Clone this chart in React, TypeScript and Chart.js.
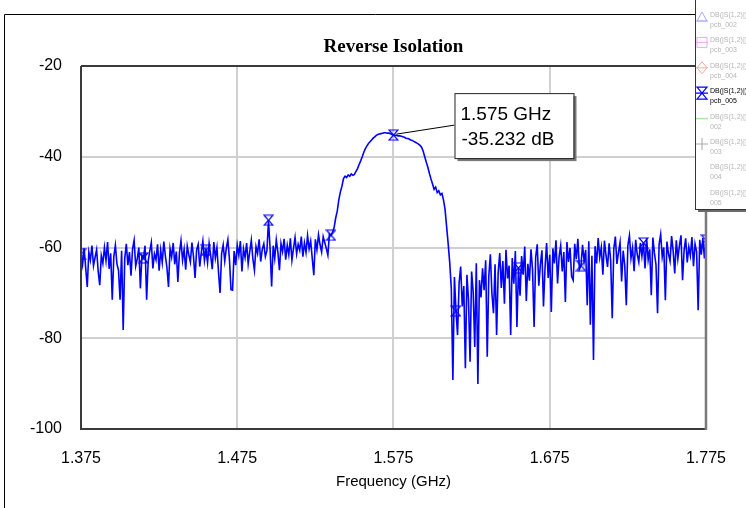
import React, { useEffect, useRef } from "react";
import { Chart, registerables } from "chart.js";

Chart.register(...registerables);

// ---- sweep definition (GHz) ----
const FREQ_START = 1.375;
const FREQ_STEP = 0.001;
const SYMBOL_EVERY = 40;

// ---- DB(|S(1,2)|) pcb_005 (dB) ----
const lowerStopband = [
  -61.5, -63.8, -60.2, -64.5, -68.7, -61.0, -62.8, -59.6, -64.0, -62.2,
  -60.5, -65.3, -68.3, -61.8, -63.5, -60.0, -62.9, -58.8, -64.7, -61.3,
  -71.5, -62.0, -59.5, -63.6, -65.0, -71.5, -60.7, -78.2, -62.4, -59.2,
  -63.9, -61.0, -66.2, -60.3, -58.4, -64.1, -62.5, -60.0, -69.0, -61.7,
  -62.3, -59.6, -71.5, -63.0, -60.8, -58.9, -64.6, -61.4, -62.7, -59.3,
  -65.1, -60.6, -63.3, -58.7, -61.9, -64.4, -68.7, -60.2, -62.1, -59.0,
  -63.7, -60.9, -67.6, -61.2, -58.5, -62.8, -60.4, -64.9, -59.7, -61.6,
  -63.2, -58.9, -62.0, -66.7, -60.5, -59.3, -64.2, -61.1, -58.6, -62.9,
  -60.6, -63.4, -59.1, -61.8, -64.8, -58.8, -62.3, -60.0, -65.4, -70.0,
  -61.3, -59.4, -63.0, -60.2, -58.3, -62.6, -69.3, -69.4, -60.8, -63.9,
  -59.5, -61.7, -58.6, -65.3, -60.3, -62.2, -59.0, -63.6, -60.9, -58.4,
  -62.5, -65.0, -59.8, -61.3, -58.2, -63.1, -60.4, -59.2, -62.0, -60.7,
  -54.0, -60.1, -68.6, -59.6, -62.4, -58.3, -61.0, -65.0, -59.1, -60.9,
  -58.1, -62.7, -59.5, -61.6, -58.0, -62.8, -60.2, -57.8, -61.4, -59.3,
  -60.6, -57.6, -62.0, -59.0, -61.1, -57.4, -60.3, -58.6, -62.4, -66.1,
  -58.2, -60.5, -57.2, -59.4, -61.0, -57.6, -58.9, -60.2, -61.7, -57.0,
];

const passband = [
  -57.3, -56.6, -55.6, -53.5, -52.0, -49.5, -47.8, -46.5, -44.8, -44.3,
  -44.6, -44.0, -44.3, -43.8, -44.1, -43.9, -43.2, -42.6, -41.7, -40.9,
  -40.0, -39.0, -38.2, -37.6, -37.1, -36.7, -36.3, -35.9, -35.6, -35.3,
  -35.1, -35.0, -34.9, -34.8, -34.7, -34.7, -34.8, -34.8, -34.9, -35.1,
  -35.232, -35.3, -35.3, -35.4, -35.4, -35.5, -35.6, -35.7, -35.9, -36.0,
  -36.1, -36.3, -36.4, -36.6, -36.8, -37.0, -37.2, -37.5, -37.9, -38.8,
  -40.0, -41.2, -42.3, -43.7, -44.9, -46.0, -47.2, -46.7, -47.9, -47.5,
  -48.4, -48.1, -49.5, -51.6, -55.4, -59.2, -63.4,
];

const upperStopband = [
  -69.0, -89.2, -66.5, -74.0, -79.3, -67.8, -64.2, -73.0, -68.5, -86.6,
  -66.0, -71.5, -85.2, -65.3, -69.8, -81.9, -63.5, -90.1, -67.2, -71.0,
  -64.6, -69.4, -62.8, -84.1, -66.3, -61.5, -70.2, -74.5, -63.7, -79.3,
  -65.5, -61.2, -68.9, -63.0, -72.4, -60.5, -66.8, -64.0, -79.3, -62.3,
  -68.0, -60.8, -77.5, -64.5, -70.6, -61.9, -66.0, -59.8, -71.8, -63.6,
  -67.3, -60.4, -64.9, -77.5, -62.1, -59.3, -68.4, -63.8, -60.6, -73.0,
  -64.4, -59.0, -66.7, -61.6, -74.2, -60.2, -63.5, -58.4, -67.9, -62.0,
  -59.6, -65.3, -61.0, -72.0, -58.8, -63.2, -60.1, -66.4, -67.2, -59.2,
  -62.6, -58.1, -64.8, -64.0, -59.4, -63.0, -60.5, -72.7, -58.6, -77.0,
  -61.8, -84.8, -59.7, -63.5, -57.9, -62.2, -60.0, -66.0, -58.5, -61.7,
  -64.3, -59.1, -62.8, -75.6, -60.3, -57.6, -63.6, -61.0, -58.9, -67.5,
  -60.7, -63.9, -72.7, -59.6, -57.4, -62.4, -60.1, -65.2, -58.3, -61.5,
  -63.2, -59.0, -61.9, -59.0, -64.6, -58.0, -62.7, -60.4, -70.5, -57.8,
  -61.2, -63.8, -74.5, -59.3, -57.1, -62.1, -60.0, -71.6, -58.7, -61.4,
  -63.0, -57.5, -60.8, -65.7, -58.4, -62.5, -59.6, -57.3, -67.2, -60.6,
  -58.0, -63.3, -59.9, -61.8, -57.7, -64.1, -59.2, -60.9, -73.8, -58.3,
  -61.6, -57.9, -62.4, -58.4,
];

// ---- axes ----
const xTicks = [1.375, 1.475, 1.575, 1.675, 1.775];
const yTicks = [-100, -80, -60, -40, -20];
const TITLE = "Reverse Isolation";
const X_TITLE = "Frequency (GHz)";

// ---- marker ----
const markerFreq = 1.575;
const markerValue = -35.232;

// ---- legend ----
const legendNames = [
  "DB(|S(1,2)|)", "DB(|S(1,2)|)", "DB(|S(1,2)|)", "DB(|S(1,2)|)",
  "DB(|S(1,2)|)", "DB(|S(1,2)|)", "DB(|S(1,2)|)", "DB(|S(1,2)|)",
];
const legendSubs = ["pcb_002", "pcb_003", "pcb_004", "pcb_005", "002", "003", "004", "005"];
const legendSymbols = ["triangle", "square", "diamond", "hourglass", "line", "plus", "none", "none"];
const legendColors = ["#a9adff", "#f3a6ef", "#f3aa9c", "#0000ff", "#a6e6a6", "#a8a8a8", "#ffffff", "#ffffff"];
const legendActive = [false, false, false, true, false, false, false, false];

function makeHourglass(color: string, w = 11, h = 12) {
  const c = document.createElement("canvas");
  c.width = w;
  c.height = h;
  const g = c.getContext("2d")!;
  g.strokeStyle = color;
  g.lineWidth = 1.2;
  g.beginPath();
  g.moveTo(1, 1);
  g.lineTo(w - 1, 1);
  g.lineTo(1, h - 1);
  g.lineTo(w - 1, h - 1);
  g.closePath();
  g.stroke();
  return c;
}

function drawSymbol(ctx: CanvasRenderingContext2D, kind: string, color: string, cx: number, cy: number) {
  ctx.save();
  ctx.strokeStyle = color;
  ctx.lineWidth = 1;
  ctx.beginPath();
  if (kind === "triangle") {
    ctx.moveTo(cx, cy - 5);
    ctx.lineTo(cx + 5, cy + 4);
    ctx.lineTo(cx - 5, cy + 4);
    ctx.closePath();
    ctx.moveTo(cx - 6, cy + 4);
    ctx.lineTo(cx + 6, cy + 4);
  } else if (kind === "square") {
    ctx.rect(cx - 5, cy - 5, 10, 10);
    ctx.moveTo(cx - 6, cy);
    ctx.lineTo(cx + 6, cy);
  } else if (kind === "diamond") {
    ctx.moveTo(cx, cy - 6);
    ctx.lineTo(cx + 5, cy);
    ctx.lineTo(cx, cy + 6);
    ctx.lineTo(cx - 5, cy);
    ctx.closePath();
    ctx.moveTo(cx - 6, cy);
    ctx.lineTo(cx + 6, cy);
  } else if (kind === "hourglass") {
    ctx.lineWidth = 1.2;
    ctx.moveTo(cx - 5, cy - 6);
    ctx.lineTo(cx + 5, cy - 6);
    ctx.lineTo(cx - 5, cy + 6);
    ctx.lineTo(cx + 5, cy + 6);
    ctx.closePath();
    ctx.moveTo(cx - 6, cy);
    ctx.lineTo(cx + 6, cy);
  } else if (kind === "line") {
    ctx.lineWidth = 1.5;
    ctx.moveTo(cx - 6, cy);
    ctx.lineTo(cx + 6, cy);
  } else if (kind === "plus") {
    ctx.moveTo(cx - 6, cy);
    ctx.lineTo(cx + 6, cy);
    ctx.moveTo(cx, cy - 6);
    ctx.lineTo(cx, cy + 6);
  }
  ctx.stroke();
  ctx.restore();
}

const decor = {
  id: "decor",
  afterDraw(chart: any) {
    const ctx: CanvasRenderingContext2D = chart.ctx;
    const a = chart.chartArea;
    const xs = chart.scales.x;
    const ys = chart.scales.y;
    ctx.save();

    // outer frame
    ctx.strokeStyle = "#000";
    ctx.lineWidth = 1;
    ctx.beginPath();
    ctx.moveTo(4.5, 508);
    ctx.lineTo(4.5, 14.5);
    ctx.lineTo(746, 14.5);
    ctx.stroke();

    // plot border
    ctx.lineWidth = 2;
    ctx.strokeStyle = "#3a3a3a";
    ctx.beginPath();
    ctx.moveTo(a.left, a.top);
    ctx.lineTo(a.left, a.bottom);
    ctx.lineTo(a.right, a.bottom);
    ctx.moveTo(a.left, a.top);
    ctx.lineTo(a.right, a.top);
    ctx.stroke();
    ctx.strokeStyle = "#7a7a7a";
    ctx.lineWidth = 2.5;
    ctx.beginPath();
    ctx.moveTo(a.right, a.top);
    ctx.lineTo(a.right, a.bottom + 1);
    ctx.stroke();

    // titles
    ctx.fillStyle = "#000";
    ctx.textAlign = "center";
    ctx.textBaseline = "middle";
    ctx.font = 'bold 19px "Liberation Serif"';
    ctx.fillText(TITLE, (a.left + a.right) / 2, 47);
    ctx.font = '15px "Liberation Sans"';
    ctx.fillText(X_TITLE, (a.left + a.right) / 2, 482);

    // marker annotation
    const px = xs.getPixelForValue(markerFreq);
    const py = ys.getPixelForValue(markerValue);
    const bx = px + 61;
    const by = py - 42;
    const bw = 119;
    const bh = 65;
    ctx.strokeStyle = "#000";
    ctx.lineWidth = 1;
    ctx.beginPath();
    ctx.moveTo(px + 3, py - 1);
    ctx.lineTo(bx, py - 10);
    ctx.stroke();
    ctx.fillStyle = "#7a7a7a";
    ctx.fillRect(bx + 3, by + 3, bw, bh);
    ctx.fillStyle = "#fff";
    ctx.fillRect(bx, by, bw, bh);
    ctx.strokeStyle = "#222";
    ctx.strokeRect(bx + 0.5, by + 0.5, bw, bh);
    ctx.fillStyle = "#000";
    ctx.textAlign = "left";
    ctx.font = '19px "Liberation Sans"';
    ctx.fillText(markerFreq.toFixed(3) + " GHz", bx + 6, by + 22);
    ctx.fillText(markerValue.toFixed(3) + " dB", bx + 7, by + 47);

    // legend
    const lx = 695;
    const ly = -1;
    const lw = 60;
    const lh = 210;
    ctx.fillStyle = "#6a6a6a";
    ctx.fillRect(lx + 3, ly + lh, lw, 3);
    ctx.fillStyle = "#fff";
    ctx.fillRect(lx, ly, lw, lh);
    ctx.strokeStyle = "#333";
    ctx.lineWidth = 1;
    ctx.strokeRect(lx + 0.5, ly + 0.5, lw, lh);
    ctx.font = '7px "Liberation Sans"';
    ctx.textAlign = "left";
    ctx.textBaseline = "middle";
    for (let k = 0; k < legendNames.length; k++) {
      const y1 = 15 + k * 25.4;
      drawSymbol(ctx, legendSymbols[k], legendColors[k], 702, y1 + 2);
      ctx.fillStyle = legendActive[k] ? "#000" : "#b5b5b5";
      ctx.fillText(legendNames[k], 710, y1);
      ctx.fillText(legendSubs[k], 710, y1 + 10);
    }

    ctx.restore();
  },
};

export default function App() {
  const ref = useRef<HTMLCanvasElement>(null);
  useEffect(() => {
    const canvas = ref.current!;
    const values = [...lowerStopband, ...passband, ...upperStopband];
    const points = values.map((v, i) => ({ x: FREQ_START + i * FREQ_STEP, y: v }));
    const hourglass = makeHourglass("#0000ff");
    const tickFont = { family: '"Liberation Sans"', size: 16 };
    const chart = new Chart(canvas, {
      type: "line",
      data: {
        datasets: [
          {
            data: points,
            borderColor: "#0000ff",
            borderWidth: 1.6,
            tension: 0,
            fill: false,
            pointRadius: (c: any) => (c.dataIndex % SYMBOL_EVERY === 0 ? 5 : 0),
            pointStyle: hourglass as any,
          },
        ],
      },
      options: {
        responsive: false,
        animation: false,
        devicePixelRatio: 1,
        layout: { padding: { left: 0, right: 40, top: 66, bottom: 0 } },
        plugins: { legend: { display: false }, tooltip: { enabled: false } },
        scales: {
          x: {
            type: "linear",
            min: xTicks[0],
            max: xTicks[xTicks.length - 1],
            afterBuildTicks: (s: any) => {
              s.ticks = xTicks.map((v) => ({ value: v }));
            },
            afterFit: (s: any) => {
              s.height = 79;
            },
            grid: { color: "#d0d0d0", lineWidth: 2, drawTicks: false },
            border: { display: false },
            ticks: {
              font: tickFont,
              color: "#000",
              padding: 20,
              maxRotation: 0,
              callback: (v: any) => Number(v).toFixed(3),
            },
          },
          y: {
            type: "linear",
            min: yTicks[0],
            max: yTicks[yTicks.length - 1],
            afterBuildTicks: (s: any) => {
              s.ticks = yTicks.map((v) => ({ value: v }));
            },
            afterFit: (s: any) => {
              s.width = 81;
            },
            grid: { color: "#d0d0d0", lineWidth: 2, drawTicks: false },
            border: { display: false },
            ticks: {
              font: tickFont,
              color: "#000",
              padding: 19,
              callback: (v: any) => String(v),
            },
          },
        },
      },
      plugins: [decor],
    } as any);
    return () => chart.destroy();
  }, []);
  return (
    <div style={{ position: "fixed", left: 0, top: 0, width: 746, height: 508, background: "#fff" }}>
      <canvas ref={ref} width={746} height={508} style={{ display: "block" }} />
    </div>
  );
}
